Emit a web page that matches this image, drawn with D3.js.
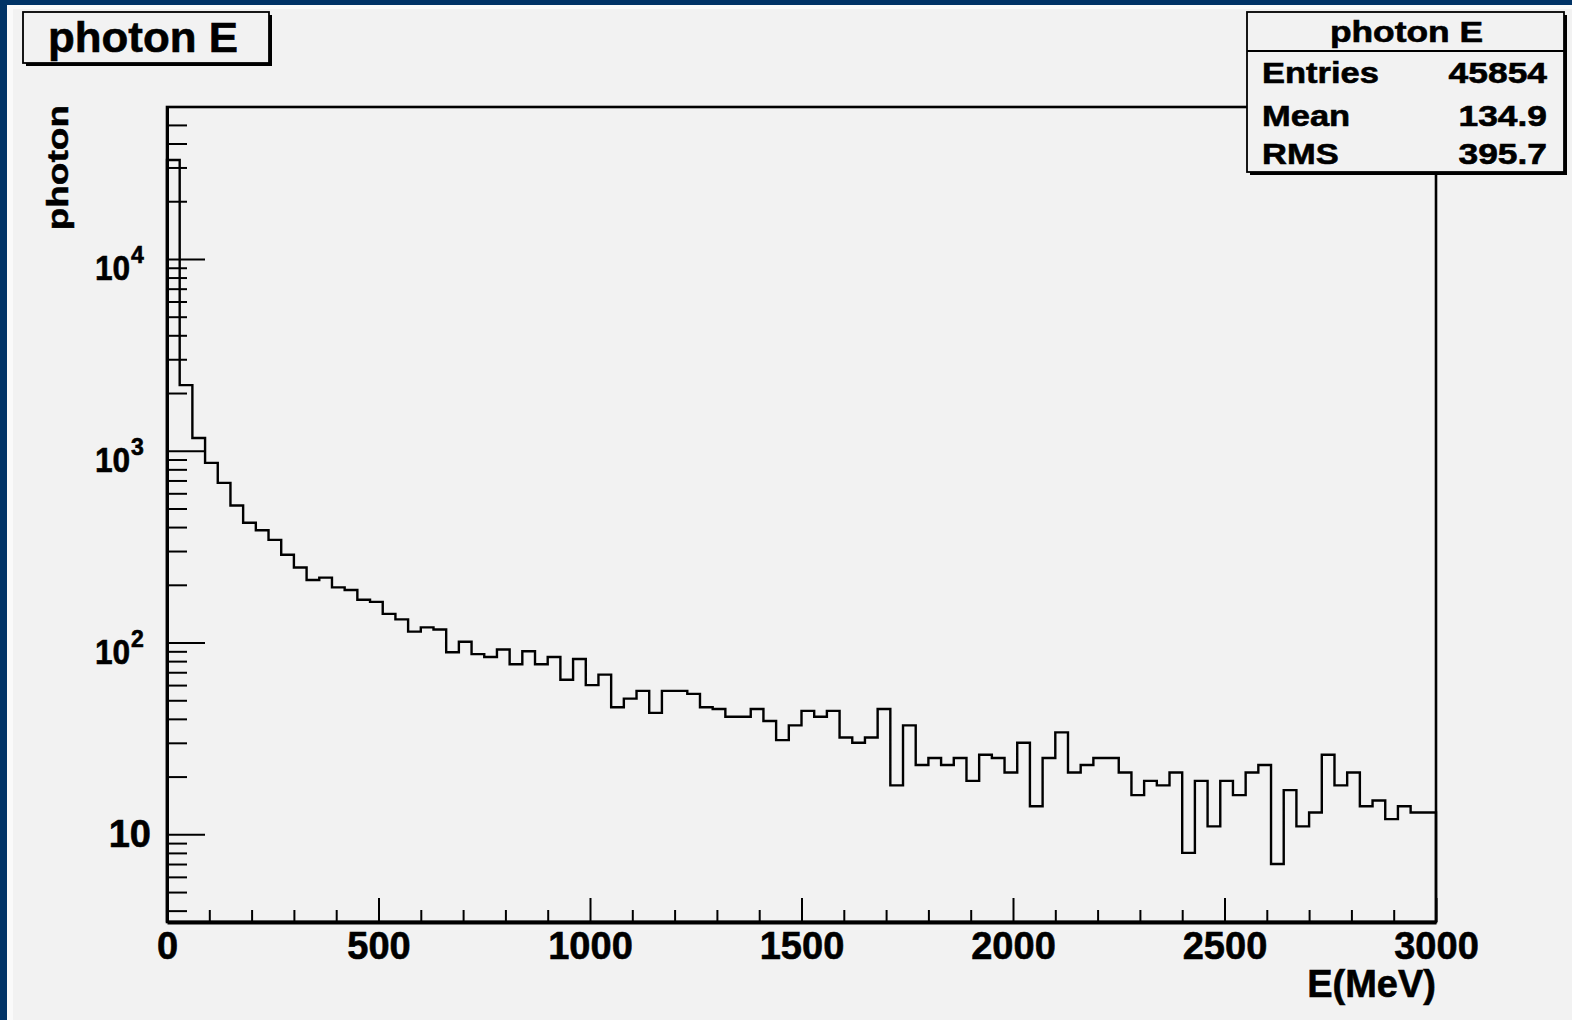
<!DOCTYPE html>
<html>
<head>
<meta charset="utf-8">
<script src="https://cdn.jsdelivr.net/npm/d3@7"></script>
<style>
  html, body { margin: 0; padding: 0; background: #003366; }
  svg { display: block; }
  text { font-family: "Liberation Sans", Arial, Helvetica, sans-serif; font-weight: bold; fill: #000; stroke: #000; stroke-width: 0.6px; }
</style>
</head>
<body>
<svg id="chart" width="1572" height="1020"></svg>
<script>
// ---- data ----
const histTitle = "photon E";
const xTitle = "E(MeV)";
const yTitle = "photon";
const xRange = [0, 3000];
const binWidth = 30;
const counts = [32800, 2200, 1165, 865, 680, 518, 421, 385, 343, 287, 246, 212, 218, 194, 188, 167, 163, 141, 132, 114, 120, 117,
  89, 101, 87, 84, 92, 77, 90, 77, 84, 64, 82, 60, 68,
  46, 51, 56, 43, 56, 56, 54, 46, 45, 41, 41, 45, 39, 31, 37, 44, 41, 44, 32, 30, 32, 45,
  18, 37, 23, 25, 23, 25, 19, 26, 25, 21, 30, 14, 25, 34, 21, 23, 25, 25, 21, 16, 19, 18, 21, 8,
  19, 11, 19, 16, 21, 23, 7, 17, 11, 13, 26, 18, 21, 14, 15, 12, 14, 13, 13];
const yRange = [3.49, 62000];
const xMajorTicks = [0, 500, 1000, 1500, 2000, 2500, 3000];
const xMinorStep = 100;
const yMajorTicks = [10, 100, 1000, 10000];
const yMajorExponents = [1, 2, 3, 4];
const statsLabels = ["Entries", "Mean", "RMS"];
const statsValues = ["45854", "134.9", "395.7"];

// ---- layout ----
const W = 1572, H = 1020;
const L = 167, R = 1436, T = 107, B = 922;
const svg = d3.select("#chart");

svg.append("rect").attr("x", 0).attr("y", 0).attr("width", W).attr("height", H).attr("fill", "#003366");
svg.append("rect").attr("x", 7).attr("y", 5).attr("width", W - 7).attr("height", H - 5).attr("fill", "#fafafa");
svg.append("rect").attr("x", 13).attr("y", 9).attr("width", W - 13).attr("height", H - 9).attr("fill", "#f2f2f2");

const x = d3.scaleLinear().domain(xRange).range([L, R]);
const y = d3.scaleLog().domain(yRange).range([B, T]);

// frame
svg.append("rect").attr("x", L).attr("y", T).attr("width", R - L).attr("height", B - T)
  .attr("fill", "none").attr("stroke", "#000").attr("stroke-width", 2.6);

// histogram outline
const pts = [[x(xRange[0]), B]];
counts.forEach((c, i) => {
  const lo = xRange[0] + i * binWidth, hi = lo + binWidth;
  pts.push([x(lo), y(c)]);
  pts.push([x(hi), y(c)]);
});
pts.push([x(xRange[1]), B]);
svg.append("path").attr("d", d3.line()(pts)).attr("fill", "none")
  .attr("stroke", "#000").attr("stroke-width", 2.4).attr("stroke-linejoin", "miter");

// x axis: minor ticks
const xMinor = d3.range(xRange[0], xRange[1] + 1, xMinorStep).filter(v => !xMajorTicks.includes(v));
const gxm = svg.append("g").attr("transform", `translate(0,${B})`)
  .call(d3.axisBottom(x).tickValues(xMinor).tickSize(-12).tickSizeOuter(0).tickFormat(""));
gxm.select(".domain").remove();
gxm.selectAll(".tick line").attr("stroke", "#000").attr("stroke-width", 2);

// x axis: major ticks + labels
const gx = svg.append("g").attr("transform", `translate(0,${B})`)
  .call(d3.axisBottom(x).tickValues(xMajorTicks).tickSize(-24).tickSizeOuter(0).tickPadding(10).tickFormat(d3.format("d")));
gx.select(".domain").attr("stroke", "#000").attr("stroke-width", 4);
gx.selectAll(".tick line").attr("stroke", "#000").attr("stroke-width", 2);
gx.selectAll(".tick text").attr("font-size", 38).attr("font-weight", "bold")
  .attr("font-family", "Liberation Sans, Arial, sans-serif").attr("fill", "#000").attr("dy", "0.71em");

// y axis: minor ticks
const yMinor = [];
for (let e = 0; e <= 4; e++) {
  for (let m = 2; m <= 9; m++) {
    const v = m * Math.pow(10, e);
    if (v > yRange[0] && y(v) > T + 5) yMinor.push(v);
  }
}
const gym = svg.append("g").attr("transform", `translate(${L},0)`)
  .call(d3.axisLeft(y).tickValues(yMinor).tickSize(-20).tickSizeOuter(0).tickFormat(""));
gym.select(".domain").remove();
gym.selectAll(".tick line").attr("stroke", "#000").attr("stroke-width", 2);

const gy = svg.append("g").attr("transform", `translate(${L},0)`)
  .call(d3.axisLeft(y).tickValues(yMajorTicks).tickSize(-38).tickSizeOuter(0).tickFormat(""));
gy.select(".domain").attr("stroke", "#000").attr("stroke-width", 3);
gy.selectAll(".tick line").attr("stroke", "#000").attr("stroke-width", 2);

// y tick labels
yMajorTicks.forEach((v, i) => {
  const ty = y(v);
  const ex = yMajorExponents[i];
  if (ex === 1) {
    svg.append("text").attr("x", 151).attr("y", ty + 13).attr("text-anchor", "end")
      .attr("font-size", 38).text("10");
  } else {
    svg.append("text").attr("transform", `translate(95,${ty + 21}) scale(0.88,1)`)
      .attr("font-size", 36).text("10");
    svg.append("text").attr("x", 131).attr("y", ty + 4).attr("font-size", 23).text(String(ex));
  }
});

// axis titles
svg.append("text").attr("x", 1436).attr("y", 997).attr("text-anchor", "end")
  .attr("font-size", 38).text(xTitle);
svg.append("text").attr("transform", `translate(68,105) scale(0.8,1) rotate(-90)`)
  .attr("text-anchor", "end").attr("font-size", 37).text(yTitle);

// title box
svg.append("rect").attr("x", 26).attr("y", 15).attr("width", 246).attr("height", 51).attr("fill", "#000");
svg.append("rect").attr("x", 23).attr("y", 12).attr("width", 246).attr("height", 51)
  .attr("fill", "#f2f2f2").attr("stroke", "#000").attr("stroke-width", 1.8);
svg.append("text").attr("transform", "translate(48,52) scale(1.02,1)").attr("font-size", 43).text(histTitle);

// stats box
const sx = 1247, sy = 12, sw = 317, sh = 160;
svg.append("rect").attr("x", sx + 3).attr("y", sy + 3).attr("width", sw).attr("height", sh).attr("fill", "#000");
svg.append("rect").attr("x", sx).attr("y", sy).attr("width", sw).attr("height", sh)
  .attr("fill", "#f2f2f2").attr("stroke", "#000").attr("stroke-width", 1.8);
svg.append("line").attr("x1", sx).attr("x2", sx + sw).attr("y1", 51).attr("y2", 51)
  .attr("stroke", "#000").attr("stroke-width", 1.8);
svg.append("text").attr("transform", `translate(${sx + sw / 2 + 1},42) scale(1.22,1)`)
  .attr("text-anchor", "middle").attr("font-size", 29).text(histTitle);
const rowBase = [83, 126, 164];
statsLabels.forEach((lab, i) => {
  svg.append("text").attr("transform", `translate(1262,${rowBase[i]}) scale(1.15,1)`)
    .attr("font-size", 30).text(lab);
  svg.append("text").attr("transform", `translate(1547,${rowBase[i]}) scale(1.18,1)`)
    .attr("text-anchor", "end").attr("font-size", 30).text(statsValues[i]);
});
</script>
</body>
</html>
